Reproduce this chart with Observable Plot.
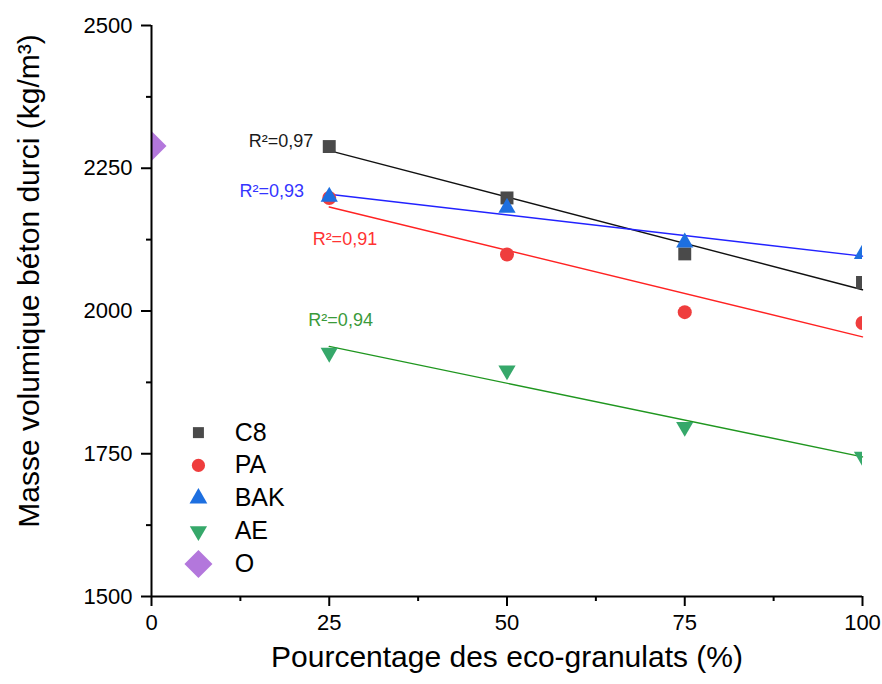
<!DOCTYPE html>
<html>
<head>
<meta charset="utf-8">
<script src="https://cdn.jsdelivr.net/npm/d3@7"></script>
<script src="https://cdn.jsdelivr.net/npm/@observablehq/plot@0.6"></script>
<style>
  html, body { margin: 0; padding: 0; background: #fff; }
  #chart { width: 882px; height: 684px; }
</style>
</head>
<body>
<div id="chart"></div>
<script>
// ---- data ----
const percent = [25, 50, 75, 100];
const c8  = [2288, 2198, 2100, 2050];
const pa  = [2198, 2099, 1998, 1979];
const bak = [2200, 2181, 2120, 2100];
const ae  = [1927, 1896, 1797, 1745];
const oX = [0];
const oY = [2289];

const seriesNames = ["C8", "PA", "BAK", "AE", "O"];
const r2Text = ["R²=0,97", "R²=0,93", "R²=0,91", "R²=0,94"];
const r2X = [18.2, 16.9, 27.2, 26.6];
const r2Y = [2297, 2209, 2125, 1983];

const yTicks = [1500, 1750, 2000, 2250, 2500];
const yMinor = [1625, 1875, 2125, 2375];
const xTicks = [0, 25, 50, 75, 100];
const xMinor = [12.5, 37.5, 62.5, 87.5];

const xLabel = "Pourcentage des eco-granulats (%)";
const yLabel = "Masse volumique béton durci (kg/m³)";

// ---- styles ----
const markerColor = {C8: "#4a4a4a", PA: "#ef3d3d", BAK: "#1d6fe0", AE: "#36a86a", O: "#b377dc"};
const lineColor = {C8: "#111111", PA: "#ff2222", BAK: "#2222ff", AE: "#1f961f"};
const r2Color = ["#1a1a1a", "#3535ff", "#ff3333", "#3a9a3a"];
const symbolOf = {C8: "square", PA: "circle", BAK: "triangle", AE: "triangle", O: "diamond2"};
const rotateOf = {C8: 0, PA: 0, BAK: 0, AE: 180, O: 0};
const sizeOf = {C8: 7.3, PA: 7, BAK: 6.4, AE: 6.4, O: 13.5};
const legendSize = {C8: 6.2, PA: 6.6, BAK: 6.6, AE: 6.4, O: 12.6};

const rows = [];
[["C8", c8], ["PA", pa], ["BAK", bak], ["AE", ae]].forEach(([s, vals]) => {
  percent.forEach((p, i) => rows.push({series: s, x: p, y: vals[i]}));
});
const oRows = oX.map((x, i) => ({series: "O", x, y: oY[i]}));

const r2Rows = r2Text.map((t, i) => ({t, x: r2X[i], y: r2Y[i], c: r2Color[i]}));

// legend rows (placed in data units, lower-left of the frame)
const legendRows = seriesNames.map((s, i) => ({s, i, y: 1787 - i * 57.5}));

const marks = [];
// regression lines
["C8", "PA", "BAK", "AE"].forEach(s => {
  marks.push(Plot.linearRegressionY(rows.filter(d => d.series === s), {
    x: "x", y: "y", stroke: lineColor[s], strokeWidth: 1.4, ci: 0
  }));
});
// data markers
["C8", "PA", "BAK", "AE"].forEach(s => {
  marks.push(Plot.dot(rows.filter(d => d.series === s), {
    x: "x", y: "y", symbol: symbolOf[s], r: sizeOf[s], fill: markerColor[s],
    rotate: rotateOf[s], clip: true
  }));
});
marks.push(Plot.dot(oRows, {x: "x", y: "y", symbol: "diamond2", r: sizeOf.O, fill: markerColor.O, clip: true}));

// R² labels
marks.push(Plot.text(r2Rows, {x: "x", y: "y", text: "t", fill: "c", fontSize: 18, textAnchor: "middle"}));

// legend
legendRows.forEach(d => {
  marks.push(Plot.dot([d], {x: 6.6, y: "y", symbol: symbolOf[d.s], r: legendSize[d.s], fill: markerColor[d.s], rotate: rotateOf[d.s]}));
});
marks.push(Plot.text(legendRows, {x: 11.7, y: "y", text: "s", fontSize: 25, textAnchor: "start", fill: "#000"}));

// axes
const fmt = d => String(d);
marks.push(Plot.axisY({ticks: yTicks, tickSize: 10, tickPadding: 9, fontSize: 22, strokeWidth: 2, label: null, tickFormat: fmt}));
marks.push(Plot.axisY({ticks: yMinor, tickSize: 5, tickFormat: () => "", strokeWidth: 2, label: null}));
marks.push(Plot.axisX({ticks: xTicks, tickSize: 10, tickPadding: 8, fontSize: 22, strokeWidth: 2, label: null, tickFormat: fmt}));
marks.push(Plot.axisX({ticks: xMinor, tickSize: 5, tickFormat: () => "", strokeWidth: 2, label: null}));
marks.push(Plot.ruleX([0], {stroke: "#000", strokeWidth: 2}));
marks.push(Plot.ruleY([1500], {stroke: "#000", strokeWidth: 2}));

// axis titles
marks.push(Plot.text([xLabel], {frameAnchor: "bottom", dy: 70, text: d => d, fontSize: 30, fill: "#000", textAnchor: "middle"}));
marks.push(Plot.text([yLabel], {frameAnchor: "left", dx: -122, dy: -30, rotate: -90, text: d => d, fontSize: 30, fill: "#000", textAnchor: "middle"}));

const chart = Plot.plot({
  width: 882,
  height: 684,
  marginLeft: 151,
  marginRight: 20,
  marginTop: 25,
  marginBottom: 88,
  x: {domain: [0, 100]},
  y: {domain: [1500, 2500]},
  style: {fontFamily: "'Liberation Sans', Arial, sans-serif", color: "#000", background: "#fff", overflow: "visible"},
  marks
});
document.getElementById("chart").appendChild(chart);
</script>
</body>
</html>
